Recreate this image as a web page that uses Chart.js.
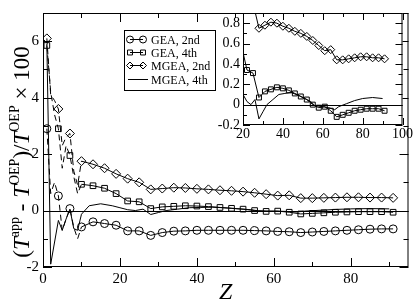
<!DOCTYPE html>
<html>
<head>
<meta charset="utf-8">
<script src="https://cdn.jsdelivr.net/npm/chart.js@4.4.0/dist/chart.umd.min.js"></script>
<style>
  html, body { margin: 0; padding: 0; background: #fff; }
  #wrap { position: relative; width: 414px; height: 300px; }
  #main { position: absolute; left: 0; top: 0; }
  #inset { position: absolute; left: 200px; top: 0; }
</style>
</head>
<body>
<div id="wrap">
  <canvas id="main" width="414" height="300"></canvas>
  <canvas id="inset" width="214" height="150"></canvas>
</div>
<script>
// atoms with markers (every third Z)
const zMark = [1, 4, 7, 10, 13, 16, 19, 22, 25, 28, 31, 34, 37, 40, 43, 46, 49, 52, 55, 58, 61, 64, 67, 70, 73, 76, 79, 82, 85, 88, 91];
const gea2 = [2.9, 0.52, 0.07, -0.58, -0.4, -0.46, -0.52, -0.72, -0.72, -0.88, -0.78, -0.73, -0.72, -0.7, -0.7, -0.7, -0.7, -0.7, -0.71, -0.72, -0.74, -0.75, -0.78, -0.76, -0.74, -0.72, -0.7, -0.68, -0.66, -0.65, -0.65];
const gea4 = [5.85, 2.9, 1.95, 0.93, 0.88, 0.79, 0.6, 0.34, 0.31, 0.07, 0.13, 0.15, 0.17, 0.16, 0.14, 0.11, 0.08, 0.05, 0.0, -0.03, -0.02, -0.06, -0.12, -0.1, -0.08, -0.06, -0.05, -0.04, -0.04, -0.04, -0.06];
const mgea2 = [6.1, 3.6, 2.73, 1.75, 1.64, 1.5, 1.3, 1.13, 1.0, 0.75, 0.78, 0.81, 0.8, 0.77, 0.75, 0.72, 0.7, 0.67, 0.63, 0.58, 0.53, 0.54, 0.44, 0.44, 0.45, 0.46, 0.47, 0.47, 0.46, 0.46, 0.45];

// light atoms, every Z (dashed part)
const zEarly = [1, 2, 3, 4, 5, 6, 7, 8, 9, 10];
const gea2Early = [2.9, 0.6, 1.0, 0.52, -0.7, -0.3, 0.07, -0.6, -1.0, -0.58];
const gea4Early = [5.85, 4.2, 3.4, 2.9, 1.5, 2.3, 1.95, 1.2, 0.6, 0.93];
const mgea2Early = [6.1, 4.1, 3.9, 3.6, 2.3, 2.6, 2.73, 1.4, 0.9, 1.75];

// MGEA 4th (line only)
const zM4 = [1, 2, 4, 5, 6, 7, 8, 9, 10, 12, 15, 18, 20, 22, 24, 26, 28, 30, 32, 35, 38, 41, 44, 48, 51, 54, 56, 60, 63, 66, 68, 72, 76, 80, 85, 90];
const mgea4 = [5.9, -1.9, -0.35, -0.7, -0.3, 0.05, -0.64, -0.7, -0.13, 0.17, 0.24, 0.17, 0.1, 0.03, 0.0, 0.05, -0.14, -0.07, 0.0, 0.05, 0.1, 0.11, 0.12, 0.09, 0.06, 0.03, -0.01, -0.02, -0.03, -0.05, -0.02, 0.01, 0.04, 0.06, 0.07, 0.06];

const legendItems = ['GEA, 2nd', 'GEA, 4th', 'MGEA, 2nd', 'MGEA, 4th'];

const serif = '"Liberation Serif", "DejaVu Serif", serif';

function pts(xs, ys) {
  return xs.map((x, i) => ({ x: x, y: ys[i] }));
}

function markSet(ys, style, r) {
  return {
    data: pts(zMark, ys),
    showLine: true,
    borderColor: '#000',
    backgroundColor: 'rgba(0,0,0,0)',
    borderWidth: 1,
    pointStyle: style,
    pointRadius: r,
    pointBorderWidth: 1,
    // first three segments are drawn by the dashed sets
    segment: { borderColor: c => c.p0DataIndex < 3 ? 'rgba(0,0,0,0)' : '#000' }
  };
}

function dashSet(ys) {
  return {
    data: pts(zEarly, ys),
    showLine: true,
    borderColor: '#000',
    borderWidth: 1,
    borderDash: [6, 4],
    pointRadius: 0
  };
}

function buildSets(r) {
  return [
    dashSet(gea2Early),
    dashSet(gea4Early),
    dashSet(mgea2Early),
    markSet(gea2, 'circle', r),
    markSet(gea4, 'rect', r),
    markSet(mgea2, 'rectRot', r + 0.5),
    { data: pts(zM4, mgea4), showLine: true, borderColor: '#000', borderWidth: 1, pointRadius: 0 }
  ];
}

// frame, inward ticks on all sides and zero line (xmgrace look)
const framePlugin = {
  id: 'frame',
  beforeDatasetsDraw(chart, args, o) {
    const a = chart.chartArea, ctx = chart.ctx;
    const ys = chart.scales.y;
    ctx.save();
    ctx.strokeStyle = '#000';
    ctx.lineWidth = 1;
    const y0 = Math.round(ys.getPixelForValue(0)) + 0.5;
    ctx.beginPath();
    ctx.moveTo(a.left, y0);
    ctx.lineTo(a.right, y0);
    ctx.stroke();
    ctx.restore();
  },
  afterDraw(chart, args, o) {
    const a = chart.chartArea, ctx = chart.ctx;
    ctx.save();
    ctx.strokeStyle = '#000';
    ctx.lineWidth = 1;
    ctx.strokeRect(a.left + 0.5, a.top + 0.5, a.right - a.left - 1, a.bottom - a.top - 1);
    ctx.beginPath();
    chart.scales.x.ticks.forEach(t => {
      const px = Math.round(chart.scales.x.getPixelForValue(t.value)) + 0.5;
      const len = o.isMajorX(t.value) ? o.major : o.minor;
      ctx.moveTo(px, a.bottom); ctx.lineTo(px, a.bottom - len);
      ctx.moveTo(px, a.top); ctx.lineTo(px, a.top + len);
    });
    chart.scales.y.ticks.forEach(t => {
      const py = Math.round(chart.scales.y.getPixelForValue(t.value)) + 0.5;
      const len = o.isMajorY(t.value) ? o.major : o.minor;
      ctx.moveTo(a.left, py); ctx.lineTo(a.left + len, py);
      ctx.moveTo(a.right, py); ctx.lineTo(a.right - len, py);
    });
    ctx.stroke();
    ctx.restore();
  }
};

// y title with superscripts
const yTitlePlugin = {
  id: 'ytitle',
  afterDraw(chart) {
    const ctx = chart.ctx;
    const F = 23, S = 14, rise = 10;
    const parts = [
      ['(', F, 0, ''], ['T', F, 0, 'italic '], ['app', S, rise, ''],
      [' - ', F, 0, ''], ['T', F, 0, 'italic '], ['OEP', S, rise, ''],
      [')/', F, 0, ''], ['T', F, 0, 'italic '], ['OEP', S, rise, ''],
      [' \u00d7 100', F, 0, '']
    ];
    ctx.save();
    let total = 0;
    parts.forEach(p => { ctx.font = p[3] + p[1] + 'px ' + serif; p.push(ctx.measureText(p[0]).width); total += p[4]; });
    ctx.translate(29, 152);
    ctx.rotate(-Math.PI / 2);
    ctx.fillStyle = '#000';
    ctx.textBaseline = 'alphabetic';
    let x = -total / 2;
    parts.forEach(p => {
      ctx.font = p[3] + p[1] + 'px ' + serif;
      ctx.fillText(p[0], x, -p[2]);
      x += p[4];
    });
    ctx.restore();
  }
};

// legend box inside the main plot
const legendPlugin = {
  id: 'boxlegend',
  afterDraw(chart) {
    const ctx = chart.ctx;
    const bx = 124, by = 30, bw = 91, bh = 60;
    ctx.save();
    ctx.fillStyle = '#fff';
    ctx.fillRect(bx, by, bw, bh);
    ctx.strokeStyle = '#000';
    ctx.lineWidth = 1;
    ctx.strokeRect(bx + 0.5, by + 0.5, bw, bh);
    const rowY = [39.5, 52.5, 65.5, 79.5];
    const styles = ['circle', 'rect', 'rectRot', null];
    legendItems.forEach((txt, i) => {
      const y = rowY[i];
      ctx.beginPath();
      ctx.moveTo(i === 3 ? 128 : 130, y);
      ctx.lineTo(i === 3 ? 148 : 143, y);
      ctx.stroke();
      if (styles[i]) {
        ctx.fillStyle = 'rgba(0,0,0,0)';
        [130, 143].forEach(x => {
          Chart.helpers.drawPoint(ctx, { pointStyle: styles[i], radius: 3.5, borderWidth: 1 }, x, y);
        });
      }
      ctx.font = '12px ' + serif;
      ctx.textBaseline = 'middle';
      ctx.fillStyle = '#000';
      ctx.fillText(txt, 151, y + 1);
    });
    ctx.restore();
  }
};

const insetBg = {
  id: 'insetbg',
  beforeDraw(chart) {
    const a = chart.chartArea, ctx = chart.ctx;
    ctx.save();
    ctx.fillStyle = '#fff';
    ctx.fillRect(a.left, a.top, a.right - a.left, a.bottom - a.top);
    ctx.restore();
  }
};

Chart.defaults.font.family = serif;
Chart.defaults.color = '#000';
Chart.defaults.animation = false;

const noGrid = { display: false, drawTicks: false, tickLength: 0 };

new Chart(document.getElementById('main'), {
  type: 'scatter',
  data: { datasets: buildSets(4) },
  options: {
    responsive: false,
    events: [],
    layout: { padding: { top: 1, right: 1, left: 0, bottom: 0 } },
    plugins: {
      legend: { display: false },
      tooltip: { enabled: false },
      frame: { major: 9, minor: 5, isMajorX: v => v % 20 === 0, isMajorY: v => v % 2 === 0 }
    },
    scales: {
      x: {
        type: 'linear', min: 0, max: 95,
        grid: noGrid, border: { display: false },
        ticks: { stepSize: 10, includeBounds: false, font: { size: 15 }, padding: 3,
          maxRotation: 0, autoSkip: false,
          callback: v => v % 20 === 0 ? String(v) : '' },
        title: { display: true, text: 'Z', font: { size: 24, style: 'italic', lineHeight: 1 }, padding: { top: 0, bottom: -5 } },
        afterFit: s => { s.height = 33; }
      },
      y: {
        type: 'linear', min: -2, max: 7,
        grid: noGrid, border: { display: false },
        ticks: { stepSize: 1, includeBounds: false, font: { size: 15 }, padding: 4, autoSkip: false,
          callback: v => v % 2 === 0 ? String(v) : '' },
        afterFit: s => { s.width = 43; }
      }
    }
  },
  plugins: [framePlugin, yTitlePlugin, legendPlugin]
});

new Chart(document.getElementById('inset'), {
  type: 'scatter',
  data: { datasets: buildSets(3.5) },
  options: {
    responsive: false,
    events: [],
    layout: { padding: { top: 13, right: 11, left: 0, bottom: 0 } },
    plugins: {
      legend: { display: false },
      tooltip: { enabled: false },
      frame: { major: 7, minor: 4,
        isMajorX: v => v % 20 === 0,
        isMajorY: v => Math.abs(Math.round(v * 10) % 2) === 0 }
    },
    scales: {
      x: {
        type: 'linear', min: 20, max: 100,
        grid: noGrid, border: { display: false },
        ticks: { stepSize: 10, includeBounds: false, font: { size: 14 }, padding: 1,
          maxRotation: 0, autoSkip: false,
          callback: v => v % 20 === 0 ? String(v) : '' },
        afterFit: s => { s.height = 25; }
      },
      y: {
        type: 'linear', min: -0.2, max: 0.9,
        grid: noGrid, border: { display: false },
        ticks: { stepSize: 0.1, includeBounds: false, font: { size: 14 }, padding: 3, autoSkip: false,
          callback: v => {
            const k = Math.round(v * 10);
            if (k % 2 !== 0) return '';
            return k === 0 ? '0' : (k / 10).toFixed(1);
          } },
        afterFit: s => { s.width = 43; }
      }
    }
  },
  plugins: [insetBg, framePlugin]
});
</script>
</body>
</html>
